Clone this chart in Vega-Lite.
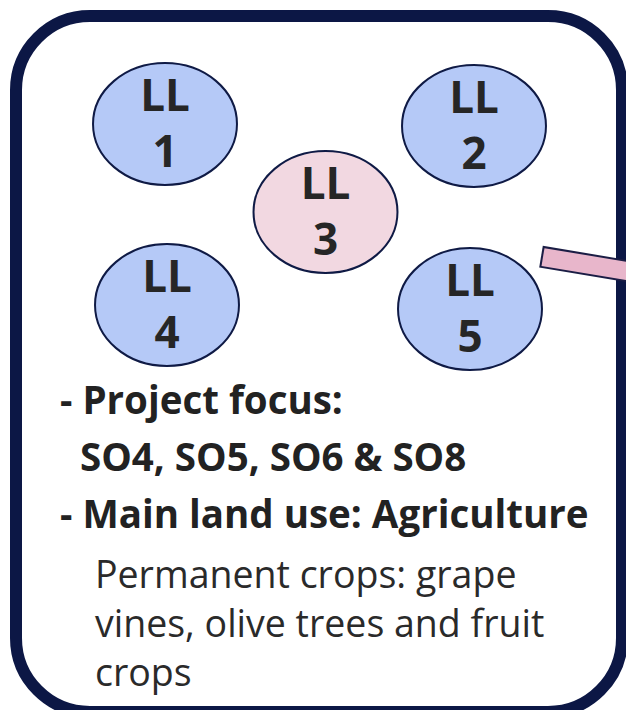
{
  "$schema": "https://vega.github.io/schema/vega-lite/v6.json",
  "width": 626,
  "height": 710,
  "autosize": "none",
  "padding": 0,
  "background": "white",
  "config": {"view": {"stroke": null}},
  "datasets": {
    "frame": [{"x": 16, "x2": 622, "y": 16, "y2": 712}],
    "arrow": [{"x": 541, "y": 256.7, "x2": 640, "y2": 273.2}],
    "circles": [
      {"top": "LL", "num": "1", "x": 165, "y": 124, "group": "blue"},
      {"top": "LL", "num": "2", "x": 474, "y": 126, "group": "blue"},
      {"top": "LL", "num": "3", "x": 325.5, "y": 212, "group": "pink"},
      {"top": "LL", "num": "4", "x": 167, "y": 305, "group": "blue"},
      {"top": "LL", "num": "5", "x": 470, "y": 309, "group": "blue"}
    ],
    "lines": [
      {"line": "- Project focus:", "x": 60, "y": 414, "kind": "heading"},
      {"line": "SO4, SO5, SO6 & SO8", "x": 80, "y": 471, "kind": "heading"},
      {"line": "- Main land use: Agriculture", "x": 60, "y": 528, "kind": "heading"},
      {"line": "Permanent crops: grape", "x": 95, "y": 588, "kind": "detail"},
      {"line": "vines, olive trees and fruit", "x": 95, "y": 637, "kind": "detail"},
      {"line": "crops", "x": 95, "y": 686, "kind": "detail"}
    ]
  },
  "layer": [
    {
      "data": {"name": "frame"},
      "mark": {"type": "rect", "fill": null, "filled": false, "stroke": "#0c1745", "strokeWidth": 12, "cornerRadius": 74},
      "encoding": {
        "x": {"field": "x", "type": "quantitative", "scale": {"domain": [0, 626], "nice": false, "zero": false}, "axis": null},
        "x2": {"field": "x2"},
        "y": {"field": "y", "type": "quantitative", "scale": {"domain": [0, 710], "nice": false, "zero": false, "reverse": true}, "axis": null},
        "y2": {"field": "y2"}
      }
    },
    {
      "data": {"name": "arrow"},
      "mark": {"type": "rule", "stroke": "#1b1d45", "strokeWidth": 22, "strokeCap": "butt"},
      "encoding": {
        "x": {"field": "x", "type": "quantitative"},
        "y": {"field": "y", "type": "quantitative"},
        "x2": {"field": "x2"},
        "y2": {"field": "y2"}
      }
    },
    {
      "data": {"name": "arrow"},
      "transform": [{"calculate": "datum.x + 2", "as": "xi"}, {"calculate": "datum.y + 0.33", "as": "yi"}],
      "mark": {"type": "rule", "stroke": "#e8b6cb", "strokeWidth": 18, "strokeCap": "butt"},
      "encoding": {
        "x": {"field": "xi", "type": "quantitative"},
        "y": {"field": "yi", "type": "quantitative"},
        "x2": {"field": "x2"},
        "y2": {"field": "y2"}
      }
    },
    {
      "data": {"name": "circles"},
      "mark": {"type": "point", "filled": true, "shape": "M -1.18 0 A 1.18 1 0 1 0 1.18 0 A 1.18 1 0 1 0 -1.18 0 Z", "size": 14884, "stroke": "#0f1a45", "strokeWidth": 2, "opacity": 1, "fillOpacity": 1},
      "encoding": {
        "x": {"field": "x", "type": "quantitative"},
        "y": {"field": "y", "type": "quantitative"},
        "fill": {"field": "group", "type": "nominal", "scale": {"domain": ["blue", "pink"], "range": ["#b5c9f7", "#f2d8e1"]}, "legend": null}
      }
    },
    {
      "data": {"name": "circles"},
      "mark": {"type": "text", "font": "Open Sans", "fontWeight": "bold", "fontSize": 44, "color": "#262626", "align": "center", "baseline": "alphabetic", "dy": -13},
      "encoding": {
        "x": {"field": "x", "type": "quantitative"},
        "y": {"field": "y", "type": "quantitative"},
        "text": {"field": "top"}
      }
    },
    {
      "data": {"name": "circles"},
      "mark": {"type": "text", "font": "Open Sans", "fontWeight": "bold", "fontSize": 44, "color": "#262626", "align": "center", "baseline": "alphabetic", "dy": 43},
      "encoding": {
        "x": {"field": "x", "type": "quantitative"},
        "y": {"field": "y", "type": "quantitative"},
        "text": {"field": "num"}
      }
    },
    {
      "data": {"name": "lines"},
      "transform": [{"filter": "datum.kind === 'heading'"}],
      "mark": {"type": "text", "font": "Open Sans", "fontWeight": "bold", "fontSize": 38.5, "color": "#222222", "align": "left", "baseline": "alphabetic"},
      "encoding": {
        "x": {"field": "x", "type": "quantitative"},
        "y": {"field": "y", "type": "quantitative"},
        "text": {"field": "line"}
      }
    },
    {
      "data": {"name": "lines"},
      "transform": [{"filter": "datum.kind === 'detail'"}],
      "mark": {"type": "text", "font": "Open Sans", "fontWeight": "normal", "fontSize": 37.5, "color": "#2a2a2a", "align": "left", "baseline": "alphabetic"},
      "encoding": {
        "x": {"field": "x", "type": "quantitative"},
        "y": {"field": "y", "type": "quantitative"},
        "text": {"field": "line"}
      }
    }
  ]
}
